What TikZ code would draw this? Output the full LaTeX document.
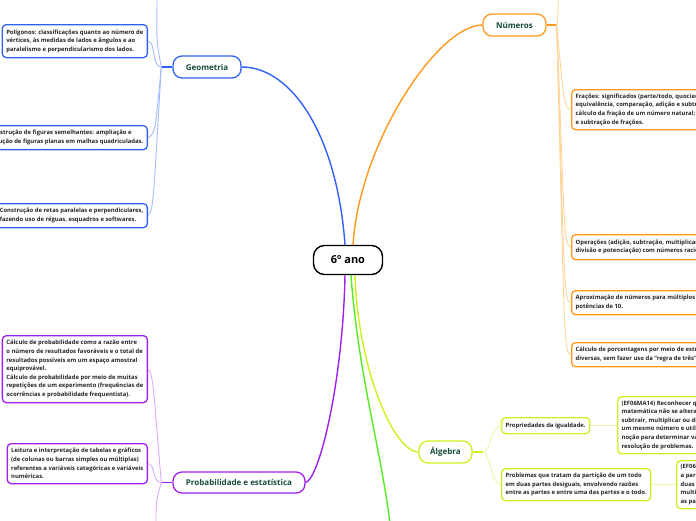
\documentclass[tikz,border=0pt]{standalone}
\usepackage{fontspec}
\setmainfont{Open Sans}
\usetikzlibrary{positioning}

\definecolor{azul}{RGB}{48,98,245}
\definecolor{azulclaro}{RGB}{165,188,250}
\definecolor{laranja}{RGB}{255,153,28}
\definecolor{laranjaclaro}{RGB}{255,212,155}
\definecolor{roxo}{RGB}{160,32,240}
\definecolor{roxoclaro}{RGB}{218,170,250}
\definecolor{lima}{RGB}{205,240,30}
\definecolor{limaclaro}{RGB}{232,248,165}
\definecolor{verde}{RGB}{85,235,35}
\definecolor{titulo}{RGB}{22,74,58}

\begin{document}
\begin{tikzpicture}[
				x=1pt, y=-1pt,
				% Estilos dos nós
				raiz/.style={draw=black, line width=1.4pt, rounded corners=11pt, fill=white, minimum width=69pt, minimum height=29pt, font=\bfseries\fontsize{11}{13}\selectfont},
				tema/.style={draw, line width=1.3pt, rounded corners=9pt, fill=white, minimum height=22pt, text=titulo, font=\bfseries\fontsize{8}{9.5}\selectfont},
				topico/.style={draw, line width=1.3pt, rounded corners=4pt, fill=white, align=left, inner xsep=4pt, text=black!85, font=\bfseries\fontsize{5.9}{8.6}\selectfont},
				% Estilos das ligações
				ramo/.style={line width=1.4pt},
				galho/.style={line width=0.9pt}
				]
				\useasboundingbox (0,0) rectangle (696,520);
				\clip (0,0) rectangle (696,520);
				
				% Nós centrais
				\node[raiz] (ano) at (348,260) {6º ano};
				\node[tema, draw=azul, minimum width=68pt] (geo) at (207,67) {Geometria};
				\node[tema, draw=laranja, minimum width=63pt] (num) at (514.5,25) {Números};
				\node[tema, draw=lima, minimum width=53pt] (alg) at (445.5,452) {Álgebra};
				\node[tema, draw=roxo, minimum width=132pt, minimum height=21pt] (prob) at (239,482.5) {Probabilidade e estatística};
				
				% Geometria
				\node[topico, draw=azul, anchor=north east, minimum height=33pt] (poli) at (148,24) {Polígonos: classificações quanto ao número de\\vértices, às medidas de lados e ângulos e ao\\paralelismo e perpendicularismo dos lados.};
				\node[topico, draw=azul, anchor=north east, minimum height=24pt] (ampl) at (148,125) {Construção de figuras semelhantes: ampliação e\\redução de figuras planas em malhas quadriculadas.};
				\node[topico, draw=azul, anchor=north east, minimum height=24pt] (retas) at (148,203) {Construção de retas paralelas e perpendiculares,\\fazendo uso de réguas, esquadros e softwares.};
				
				% Números
				\node[topico, draw=laranja, anchor=north west, minimum height=40pt] (fracoes) at (571,89) {Frações: significados (parte/todo, quociente),\\equivalência, comparação, adição e subtração;\\cálculo da fração de um número natural; adição\\e subtração de frações.};
				\node[topico, draw=laranja, anchor=north west, minimum height=25pt] (oper) at (571,234) {Operações (adição, subtração, multiplicação,\\divisão e potenciação) com números racionais.};
				\node[topico, draw=laranja, anchor=north west, minimum height=24pt] (aprox) at (571,290) {Aproximação de números para múltiplos de\\potências de 10.};
				\node[topico, draw=laranja, anchor=north west, minimum height=24pt] (porc) at (571,342) {Cálculo de porcentagens por meio de estratégias\\diversas, sem fazer uso da “regra de três”.};
				
				% Álgebra
				\node[topico, draw=lima, anchor=north west, minimum height=16pt] (prop) at (501,417) {Propriedades da igualdade.};
				\node[topico, draw=lima, anchor=north west, minimum height=32pt] (part) at (501,468) {Problemas que tratam da partição de um todo\\em duas partes desiguais, envolvendo razões\\entre as partes e entre uma das partes e o todo.};
				\node[topico, draw=lima, anchor=north west, minimum height=57pt] (ef14) at (617,396) {(EF06MA14) Reconhecer que a relação de igualdade\\matemática não se altera ao adicionar,\\subtrair, multiplicar ou dividir os seus dois membros por\\um mesmo número e utilizar essa\\noção para determinar valores desconhecidos na\\resolução de problemas.};
				\node[topico, draw=lima, anchor=north west, minimum height=48pt] (ef15) at (676,460) {(EF06MA15) Resolver e elaborar problemas que envolvam\\a partilha de uma quantidade em\\duas partes desiguais, envolvendo relações aditivas e\\multiplicativas, bem como a razão entre\\as partes e entre uma das partes e o todo.};
				
				% Probabilidade e estatística
				\node[topico, draw=roxo, anchor=north east, minimum height=67pt] (calc) at (148,335) {Cálculo de probabilidade como a razão entre\\o número de resultados favoráveis e o total de\\resultados possíveis em um espaço amostral\\equiprovável.\\Cálculo de probabilidade por meio de muitas\\repetições de um experimento (frequências de\\ocorrências e probabilidade frequentista).};
				\node[topico, draw=roxo, anchor=north east, minimum height=40pt] (leit) at (148,443) {Leitura e interpretação de tabelas e gráficos\\(de colunas ou barras simples ou múltiplas)\\referentes a variáveis categóricas e variáveis\\numéricas.};
				
				% Pontas soltas
				\coordinate (verdefim) at (392,545);
				\coordinate (geotopo) at (157,-5);
				\coordinate (numtopo) at (558,-5);
				\coordinate (probfim) at (156,525);
				
				% Ramos principais
				\draw[ramo, azul] ([xshift=-3pt]ano.north) .. controls +(-8,-110) and +(50,0) .. (geo.east);
				\draw[ramo, laranja] ([xshift=5pt]ano.north) .. controls +(6,-100) and +(-45,0) .. (num.west);
				\draw[ramo, roxo] ([xshift=-3pt]ano.south) .. controls +(-2,105) and +(14,-4) .. (prob.east);
				\draw[ramo, verde] ([xshift=3pt]ano.south) .. controls +(8,110) and +(-6,-80) .. (verdefim);
				\draw[ramo, lima] ([xshift=7pt]ano.south) .. controls +(3,95) and +(-24,0) .. (alg.west);
				
				% Galhos de Geometria
				\draw[ramo, azul] (geo.west) -- ++(-11,0) coordinate (gj);
				\draw[galho, azulclaro] (gj) .. controls +(-6,-30) and +(0,40) .. (geotopo);
				\draw[galho, azulclaro] (gj) .. controls +(-10,0) and +(8,0) .. (poli.east);
				\draw[galho, azulclaro] (gj) .. controls +(-6,60) and +(8,-4) .. (ampl.east);
				\draw[galho, azulclaro] (gj) .. controls +(-8,130) and +(6,-6) .. (retas.east);
				
				% Galhos de Números
				\draw[ramo, laranja] (num.east) -- ++(10,0) coordinate (nj);
				\draw[galho, laranjaclaro] (nj) .. controls +(2,-10) and +(0,10) .. (numtopo);
				\draw[galho, laranjaclaro] (nj) .. controls +(6,60) and +(-8,0) .. (fracoes.west);
				\draw[galho, laranjaclaro] (nj) .. controls +(8,190) and +(-8,0) .. (oper.west);
				\draw[galho, laranjaclaro] (nj) .. controls +(8,250) and +(-8,0) .. (aprox.west);
				\draw[galho, laranjaclaro] (nj) .. controls +(8,300) and +(-8,0) .. (porc.west);
				
				% Galhos de Álgebra
				\draw[ramo, lima] (alg.east) -- ++(10,0) coordinate (aj);
				\draw[galho, limaclaro] (aj) .. controls +(8,0) and +(-10,0) .. (prop.west);
				\draw[galho, limaclaro] (aj) .. controls +(8,0) and +(-10,0) .. (part.west);
				\draw[galho, limaclaro] (prop.east) -- (ef14.west |- prop.east);
				\draw[galho, limaclaro] (part.east) -- (ef15.west |- part.east);
				
				% Galhos de Probabilidade
				\draw[ramo, roxo] (prob.west) -- ++(-11,0) coordinate (pj);
				\draw[galho, roxoclaro] (pj) .. controls +(-8,-90) and +(6,6) .. (calc.east);
				\draw[galho, roxoclaro] (pj) .. controls +(-10,0) and +(8,0) .. (leit.east);
				\draw[galho, roxoclaro] (pj) .. controls +(-6,20) and +(0,-20) .. (probfim);
				
			\end{tikzpicture}
\end{document}
